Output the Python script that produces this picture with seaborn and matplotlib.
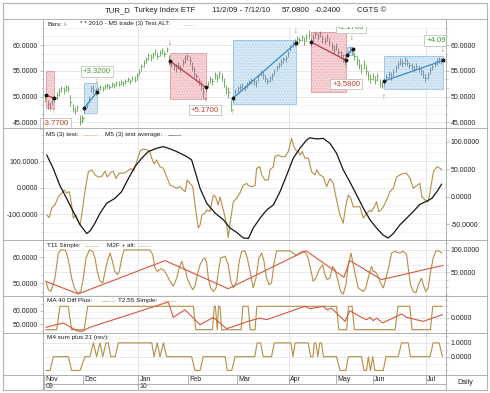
import matplotlib
matplotlib.use("Agg")
import matplotlib.pyplot as plt
from matplotlib.lines import Line2D
from matplotlib.patches import Rectangle
from matplotlib.ticker import FixedLocator, FormatStrFormatter, MultipleLocator
import seaborn as sns

# ---- daily HLC bars, TUR 11/2/09 - 7/12/10 (x = bar index) ----
close = [50.0, 48.6, 48.2, 49.6, 49.8, 50.3, 51.0, 51.6, 51.2, 51.9,
         51.5, 49.0, 47.6, 47.2, 47.9, 45.3, 45.8, 47.7, 48.5, 49.6,
         51.6, 51.2, 50.9, 51.4, 51.8, 51.5, 52.0, 52.3, 51.9, 52.4,
         52.2, 52.6, 52.5, 52.9, 52.7, 53.1, 53.4, 53.0, 53.6, 53.3,
         54.2, 54.8, 55.9, 56.5, 57.2, 58.0, 57.6, 58.2, 58.8, 57.9,
         58.5, 59.0, 58.3, 59.3, 56.9, 56.4, 56.0, 55.6, 56.2, 55.5,
         56.8, 57.4, 57.9, 57.0, 55.8, 54.9, 53.9, 53.0, 52.2, 50.8,
         51.8, 52.5, 53.4, 53.0, 54.2, 53.6, 54.5, 53.8, 52.9, 51.5,
         50.9, 48.3, 49.7, 51.0, 51.6, 51.9, 52.2, 51.8, 52.4, 52.9,
         53.3, 53.0, 52.6, 53.9, 54.7, 54.2, 53.5, 53.1, 53.6, 54.0,
         54.9, 55.8, 56.3, 56.7, 57.2, 57.5, 58.4, 59.6, 60.4, 60.5,
         61.2, 61.0, 61.5, 60.8, 61.6, 62.0, 60.6, 61.5, 62.2, 61.7,
         62.3, 61.2, 60.8, 61.6, 60.5, 59.9, 59.2, 59.8, 58.6, 58.1,
         57.5, 57.0, 58.3, 59.4, 58.9, 57.8, 57.0, 56.1, 55.4, 56.3,
         55.0, 54.2, 53.4, 54.0, 53.2, 53.9, 52.6, 52.2, 53.0, 53.8,
         54.3, 54.0, 54.8, 55.6, 56.3, 56.8, 56.5, 57.0, 56.6, 56.2,
         55.8, 55.4, 56.0, 55.5, 54.9, 54.4, 53.6, 54.2, 55.1, 55.8,
         56.4, 56.9, 57.32, 57.08]
high = [50.6, 49.4, 48.9, 50.1, 50.4, 50.9, 51.6, 52.1, 51.9, 52.3,
        52.2, 50.4, 48.6, 47.9, 48.3, 46.4, 46.5, 48.1, 49.0, 50.2,
        52.1, 52.2, 51.6, 51.8, 52.2, 52.0, 52.4, 52.7, 52.4, 52.8,
        52.7, 53.0, 53.0, 53.3, 53.1, 53.5, 53.8, 53.5, 54.0, 53.9,
        54.6, 55.3, 56.4, 57.0, 57.6, 58.5, 58.2, 58.7, 59.2, 58.6,
        59.0, 59.4, 58.9, 59.6, 58.0, 57.0, 56.6, 56.3, 56.8, 56.1,
        57.3, 58.1, 58.3, 57.8, 56.7, 55.8, 54.6, 53.7, 53.0, 51.9,
        52.3, 53.0, 53.9, 53.6, 54.7, 54.3, 55.0, 54.5, 53.6, 52.3,
        51.8, 49.4, 50.1, 51.4, 52.0, 52.4, 52.6, 52.3, 52.8, 53.3,
        53.7, 53.5, 53.2, 54.3, 55.1, 54.9, 54.1, 53.6, 54.0, 54.5,
        55.3, 56.2, 56.7, 57.2, 57.7, 58.0, 58.9, 60.0, 60.8, 61.1,
        61.7, 61.6, 62.0, 61.5, 62.1, 62.9, 61.4, 62.2, 62.7, 62.3,
        62.8, 62.0, 61.5, 62.1, 61.3, 60.6, 60.0, 60.3, 59.4, 58.8,
        58.2, 57.6, 58.9, 59.8, 59.5, 58.7, 57.8, 57.2, 56.3, 57.0,
        56.1, 55.0, 54.3, 54.6, 54.0, 54.5, 53.5, 52.9, 53.5, 54.4,
        54.9, 54.7, 55.4, 56.2, 56.9, 57.4, 57.3, 57.6, 57.3, 56.8,
        56.5, 56.1, 56.6, 56.2, 55.6, 55.1, 54.4, 54.8, 55.7, 56.4,
        56.9, 57.4, 57.6, 57.5]
low = [48.9, 47.6, 47.4, 48.4, 49.0, 49.6, 50.2, 50.8, 50.5, 51.0,
       50.9, 48.2, 47.0, 46.6, 47.2, 44.4, 44.9, 46.8, 47.8, 48.9,
       50.8, 50.5, 50.3, 50.8, 51.2, 51.0, 51.4, 51.7, 51.4, 51.8,
       51.6, 52.0, 52.0, 52.3, 52.1, 52.5, 52.8, 52.4, 53.0, 52.8,
       53.2, 54.1, 55.0, 55.8, 56.5, 57.1, 56.9, 57.5, 58.0, 57.3,
       57.8, 58.3, 57.7, 58.6, 56.2, 55.7, 55.2, 54.8, 55.4, 54.7,
       55.9, 56.6, 57.0, 56.2, 55.0, 53.8, 53.0, 52.2, 51.3, 49.8,
       51.0, 51.8, 52.6, 52.3, 53.4, 52.9, 53.7, 53.0, 51.9, 50.6,
       49.8, 47.3, 48.9, 50.3, 50.9, 51.2, 51.5, 51.1, 51.7, 52.2,
       52.5, 52.3, 51.9, 53.1, 54.0, 53.5, 52.8, 52.4, 52.9, 53.3,
       54.1, 55.0, 55.6, 56.0, 56.5, 56.8, 57.6, 58.8, 59.6, 59.8,
       60.4, 60.3, 60.7, 60.0, 60.8, 61.2, 59.9, 60.8, 61.4, 61.0,
       61.5, 60.4, 60.1, 60.8, 59.8, 59.1, 58.4, 59.0, 57.8, 57.3,
       56.7, 56.3, 57.6, 58.6, 58.1, 57.0, 56.1, 55.3, 54.6, 55.4,
       54.2, 53.3, 52.6, 53.2, 52.4, 53.0, 51.9, 51.6, 52.3, 53.1,
       53.6, 53.3, 54.0, 54.8, 55.5, 56.1, 55.8, 56.2, 55.9, 55.5,
       55.1, 54.7, 55.2, 54.8, 54.2, 53.7, 52.9, 53.4, 54.4, 55.1,
       55.7, 56.2, 56.6, 56.4]

# ---- "M5 trade (3) Test ALT" trades ----
trade_side = ["short", "long", "short", "long", "short", "long", "long"]
trade_i0 = [0.2, 16.9, 54.5, 82.0, 116.0, 131.7, 147.9]
trade_i1 = [3.8, 22.6, 70.0, 109.5, 131.5, 134.4, 173.7]
box_hi = [55.0, 52.6, 58.5, 61.0, 62.5, 59.6, 57.9]
box_lo = [47.85, 46.8, 49.5, 48.6, 50.9, 58.1, 51.5]
trade_p0 = [50.3, 47.7, 56.9, 49.7, 60.6, 58.0, 53.0]
trade_p1 = [49.7, 50.9, 51.8, 60.4, 57.0, 59.3, 57.0]

result_text = ["-3.7700", "+3.3200", "+5.1700", "-1.1700", "+3.5800", "+4.0900"]
result_side = ["short", "long", "short", "long", "short", "long"]
result_x = [4.45, 22.4, 69.7, 133.5, 131.5, 172.6]
result_y = [44.79, 54.86, 47.4, 63.45, 52.44, 60.8]

arrow_x = [3.6, 16.7, 22.5, 54.5, 70.0, 82.0, 109.5, 131.5, 133.9, 148.0, 173.7]
arrow_y = [47.1, 45.3, 53.0, 60.3, 49.3, 47.0, 62.7, 55.8, 61.3, 49.8, 58.9]
arrow_up = [True, True, False, False, True, True, False, True, False, True, False]
arrow_side = ["short", "long", "long", "short", "short", "long", "long",
              "long", "long", "long", "long"]

# ---- M5 (3) test (left scale) / test average (right scale) ----
m5_x = [0.6, 1.7, 2.8, 4.2, 5.7, 7.2, 8.3, 9.3, 10.5, 11.5, 12.2, 13.4, 14.4, 15.2,
        15.9, 17.3, 18.8, 20.3, 21.7, 23.2, 24.6, 26.1, 27.1, 28.6, 29.7, 30.9, 32.3,
        34.1, 35.5, 37.3, 38.7, 39.9, 41.4, 42.8, 44.5, 45.7, 46.5, 47.5, 48.6, 50.1,
        51.5, 53.0, 54.5, 55.9, 57.4, 58.8, 60.3, 61.1, 62.0, 63.2, 64.4, 65.5, 66.8,
        67.6, 68.4, 69.7, 70.5, 71.9, 73.4, 74.4, 75.5, 76.3, 77.3, 78.2, 79.2, 79.9,
        80.8, 82.1, 83.6, 85.0, 86.5, 88.0, 88.7, 90.2, 91.6, 92.3, 93.7, 94.5, 95.9,
        97.4, 98.1, 99.6, 100.3, 101.8, 103.2, 104.7, 106.1, 107.6, 108.3, 109.3,
        110.5, 111.2, 112.2, 113.4, 114.9, 116.3, 117.8, 118.5, 120.0, 121.4, 122.9,
        124.3, 125.8, 127.2, 128.7, 130.1, 131.3, 132.3, 133.4, 134.5, 136.0, 137.4,
        138.9, 140.4, 141.8, 142.5, 143.5, 144.7, 145.6, 146.5, 147.6, 149.1, 150.5,
        152.0, 153.4, 154.9, 156.3, 157.8, 159.3, 160.7, 162.2, 163.6, 164.4, 165.8,
        167.3, 168.3, 169.5, 171.0, 172.4, 173.1]
m5_y = [-103, -113, -77, -65, -34, -20, -9, -20, -15, -65, -115, -103, -128, -141,
        -103, -15, 60, 67, 48, 40, 42, 62, 40, 58, 62, 35, 55,
        55, 60, 72, 65, 98, 138, 146, 143, 134, 111, 90, 104, 79,
        74, 41, 10, 4, -2, 4, -9, -15, 29, 16, 4, -72, -152,
        -141, -103, -97, -84, -90, -28, -35, -65, -35, -70, -100, -141, -189,
        -128, -53, -40, -20, 10, 16, 8, 4, 8, 73, 79, 48, 29,
        29, 67, 79, 117, 123, 117, 117, 136, 186, 161, 142,
        136, 123, 136, 111, 111, 60, 48, 67, 48, 41, 4,
        35, 16, -46, -103, -134, -65, -28, -40, -72, -72, -72,
        -115, -97, -85, -90, -75, -53, -90, -85, -72, -46, -15,
        -2, 41, 48, 54, 54, 35, -2, 8, 16, -34, -46,
        -53, -2, 60, 79, 73, 67]
avg_x = [0.6, 3.4, 6.3, 9.3, 12.2, 15.2, 18.1, 19.6, 21.7, 23.9, 26.8, 30.4, 33.3,
         36.3, 39.2, 42.1, 45.0, 48.6, 51.5, 54.5, 57.4, 61.8, 63.9, 65.5, 67.6, 70.5,
         74.2, 77.8, 80.7, 83.6, 86.5, 88.7, 90.8, 93.8, 96.7, 99.6, 102.5, 105.4,
         108.3, 111.2, 114.1, 115.5, 118.5, 121.4, 124.3, 127.2, 130.1, 133.0, 136.0,
         138.9, 141.8, 144.7, 147.6, 149.8, 152.0, 154.9, 157.8, 160.7, 163.6, 166.6,
         168.8, 171.0, 173.1]
avg_y = [76, 52, 21, -3, -27, -51, -67, -62, -48, -30, -12, -3, 9,
         33, 55, 70, 82, 88, 91, 87, 82, 73, 67, 45, 15, -12,
         -30, -42, -57, -65, -75, -76, -57, -39, -24, -15, 9, 39,
         70, 88, 103, 107, 105, 106, 97, 79, 49, 27, 3,
         -21, -42, -57, -70, -75, -67, -51, -39, -27, -14, -8,
         -3, 9, 23]

# ---- T11 Simple (right scale) / M2F + alt (left scale) ----
t11_x = [0.3, 1.3, 2.5, 4.2, 5.7, 6.7, 8.6, 9.3, 10.5, 11.5, 12.7, 14.0, 15.5, 16.6,
         17.8, 19.2, 20.7, 21.7, 22.7, 23.9, 25.1, 26.1, 27.1, 28.3, 29.3, 30.4, 31.5,
         32.3, 33.4, 34.4, 45.7, 46.9, 47.9, 48.9, 50.4, 51.9, 53.0, 54.5, 55.9, 57.4,
         58.5, 59.6, 60.3, 61.3, 62.0, 63.2, 64.4, 65.4, 66.4, 67.6, 68.7, 69.8, 70.5,
         71.2, 72.2, 73.4, 74.6, 75.6, 76.6, 78.5, 79.9, 81.0, 82.1, 83.6, 84.7, 85.8,
         87.2, 88.2, 89.7, 90.8, 92.0, 93.3, 94.5, 95.5, 96.6, 97.8, 98.8, 99.8, 101.0,
         106.8, 108.3, 109.7, 110.9, 112.7, 113.8, 114.8, 115.9, 117.0, 118.2, 119.6,
         121.1, 122.1, 123.1, 124.3, 125.5, 126.5, 127.9, 129.0, 130.1, 131.3, 132.3,
         133.5, 134.5, 135.7, 136.7, 137.7, 138.9, 140.0, 141.0, 141.8, 142.5, 143.2,
         143.9, 145.0, 146.1, 147.6, 148.8, 150.2, 151.2, 152.7, 154.6, 156.3, 157.8,
         158.5, 159.5, 160.7, 161.9, 162.9, 164.3, 165.3, 166.2, 167.2, 168.3, 169.4,
         170.6, 172.0, 173.1]
t11_y = [30, 11, 7, 37, 93, 100, 100, 93, 67, 37, 15, 4, 7, 37,
         82, 100, 97, 82, 52, 30, 26, 52, 75, 93, 75, 52, 45,
         52, 82, 100, 100, 90, 60, 52, 58, 54, 45, 30, 19, 37,
         60, 75, 63, 52, 37, 22, 11, 19, 45, 67, 78, 82, 71,
         37, 15, 7, 15, 52, 82, 86, 67, 30, 15, 30, 75, 97,
         98, 82, 45, 15, 37, 82, 93, 75, 37, 22, 26, 67, 98,
         98, 93, 88, 93, 97, 93, 82, 56, 30, 37, 56,
         67, 45, 34, 37, 63, 56, 30, 7, 1, 22, 67,
         93, 67, 37, 15, 11, 7, 15, 37, 52, 63, 52,
         52, 45, 30, 15, 37, 67, 93, 97, 93, 97, 90,
         60, 22, 7, 4, 22, 37, 19, 7, 15, 52, 82,
         98, 98, 93]
m2f_x = [0.3, 14.4, 52.3, 79.9, 113.8, 130.4, 133.0, 146.9, 173.8]
m2f_y = [50.7, 45.9, 58.7, 47.9, 62.5, 52.3, 58.7, 51.4, 56.9]

# ---- MA 40 Diff Plus (right scale) / T2.55 Simple (left scale) ----
ma40_x = [0.3, 5.0, 6.4, 10.0, 11.5, 17.0, 18.5, 64.7, 65.7, 73.0,
          73.8, 74.3, 75.1, 75.7, 76.3, 77.0, 85.5, 86.3, 88.6, 89.5,
          91.6, 92.4, 127.2, 128.2, 131.6, 132.4, 134.0, 135.0, 152.8, 154.0,
          159.2, 160.2, 168.2, 169.2, 173.5]
ma40_y = [-1, -1, 1, 1, -1, -1, 1, 1, -1, -1,
          1, 1, -1, 1, 1, -1, -1, 1, 1, -1,
          -1, 1, 1, -1, -1, 1, 1, -1, -1, 1,
          1, -1, -1, 1, 1]
t255_x = [0.3, 7.9, 13.7, 15.9, 19.5, 53.7, 55.9, 61.0, 67.6, 73.4,
          79.2, 89.4, 93.7, 96.6, 113.4, 115.6, 121.4, 123.1, 125.0, 130.9,
          133.0, 138.1, 140.3, 141.8, 143.2, 144.7, 147.3, 155.6, 157.8, 165.1,
          173.5]
t255_y = [47.8, 51.0, 45.3, 44.8, 47.8, 66.4, 55.1, 60.7, 49.7, 55.1,
          46.8, 52.6, 54.6, 53.4, 63.2, 61.5, 63.2, 60.7, 61.9, 52.2,
          60.0, 55.1, 53.4, 55.1, 52.7, 54.6, 51.0, 57.6, 55.1, 52.2,
          57.1]

# ---- M4 sum plus 21 (rev) ----
m4_x = [0.3, 2.1, 3.5, 10.1, 11.5, 15.2, 17.3, 19.5, 21.0, 22.4,
        23.9, 25.1, 26.5, 27.5, 28.6, 30.5, 31.9, 46.5, 47.5, 48.9,
        50.1, 51.6, 53.0, 63.9, 65.4, 67.6, 69.0, 78.5, 79.5, 81.4,
        82.9, 91.5, 92.5, 94.0, 95.2, 98.8, 100.0, 107.3, 108.2, 109.1,
        114.8, 115.9, 116.9, 117.5, 118.2, 119.0, 119.9, 120.6, 121.5, 127.2,
        128.7, 131.3, 132.3, 138.1, 139.2, 140.3, 141.1, 142.0, 143.0, 143.9,
        147.6, 148.8, 154.1, 155.6, 158.5, 159.5, 168.0, 169.4, 172.0, 173.5]
m4_y = [-1, -1, 0, 0, -1, -1, 0, 0, 1, 0,
        1, 0, 1, 1, 0, 0, 1, 1, 0, 1,
        0, 1, 0, 0, -1, -1, 0, 0, -1, -1,
        0, 0, 1, 1, 0, 0, 1, 1, 0, 1,
        1, 0, 0, 1, 1, 0, 1, 1, 0, 0,
        -1, -1, 0, 0, -1, -1, 0, -1, 0, -1,
        -1, 0, 0, 1, 1, 0, 0, 1, 1, 0]

months = ["Nov", "Dec", "Jan", "Feb", "Mar", "Apr", "May", "Jun", "Jul"]
month_pos = [-0.4, 16.5, 40.5, 62.3, 83.7, 106.4, 127.0, 143.1, 166.2]
years = ["09", "10"]
year_pos = [-0.4, 40.5]

# ---- look ----
W, H = 490, 393
PX_L, PX_R = 43, 446
XLIM = (-1, 175)
GOLD = "#b48f45"
RED = "#d6583e"
GREEN = "#4c9e38"
BLACK = "#151515"
FRAME = "#a4a4a4"
SIDE = {"short": dict(fill="#f6d2d5", dots="#e7a7ad", edge="#e49aa2", line="#b8394a",
                      bar="#8a6a72", text="#c0392b"),
        "long": dict(fill="#d7e8f5", dots="#a9cdea", edge="#93c2e6", line="#3b8bc4",
                     bar="#64839a", text="#3f9a2c")}

sns.set_style("white")
plt.rcParams["font.family"] = ["Liberation Sans", "DejaVu Sans"]
plt.rcParams["hatch.linewidth"] = 0.4


def fig_box(top, bottom):
    return [PX_L / W, 1 - bottom / H, (PX_R - PX_L) / W, (bottom - top) / H]


def fig_line(fig, x0, y0, x1, y1, color=FRAME):
    fig.add_artist(Line2D([x0 / W, x1 / W], [1 - y0 / H, 1 - y1 / H],
                          color=color, lw=0.6, zorder=5))


def fig_text(fig, x, y, s, **kw):
    kw.setdefault("fontsize", 4.6)
    kw.setdefault("color", "#222222")
    fig.text(x / W, 1 - y / H, s, va="center", ha="left", zorder=6, **kw)


def base(ax, quarters):
    ax.set_xlim(*XLIM)
    ax.set_xticks(quarters)
    ax.tick_params(axis="x", length=0, labelbottom=False)
    ax.grid(True, axis="x", color="#dadada", lw=0.5)
    for s in ax.spines.values():
        s.set_visible(False)


def yaxis(ax, side, ticks, lim, minor=None, grid=False):
    ax.set_ylim(*lim)
    ax.yaxis.set_major_locator(FixedLocator(ticks))
    ax.yaxis.set_major_formatter(FormatStrFormatter("%.4f"))
    if minor:
        ax.yaxis.set_minor_locator(MultipleLocator(minor))
    ax.tick_params(axis="y", which="both", left=side in ("left", "both"),
                   right=side in ("right", "both"),
                   labelleft=side in ("left", "both"),
                   labelright=side in ("right", "both"))
    ax.tick_params(axis="y", which="major", labelsize=5, length=2, width=0.5,
                   pad=1.5, color=FRAME, labelcolor="#222222")
    ax.tick_params(axis="y", which="minor", length=1.2, width=0.4, color=FRAME)
    ax.set_ylabel("")
    if grid:
        ax.grid(True, axis="y", which="major", color="#dedede", lw=0.5)
        ax.grid(True, axis="y", which="minor", color="#efefef", lw=0.45)


def line(ax, xs, ys, color, lw=0.8):
    sns.lineplot(x=xs, y=ys, ax=ax, color=color, linewidth=lw,
                 estimator=None, sort=False, legend=False)


fig = plt.figure(figsize=(W / 100, H / 100), dpi=100)
quarters = [month_pos[2], month_pos[5], month_pos[8]]

# ---- price panel ----
ax1 = fig.add_axes(fig_box(18.5, 127.5))
base(ax1, quarters)
yaxis(ax1, "both", [45, 50, 55, 60], (44.01, 65.14), minor=5 / 3, grid=True)

idx = list(range(len(close)))
bar_colors = []
for i in idx:
    c = GREEN
    for side, a, b in zip(trade_side, trade_i0, trade_i1):
        if a <= i <= b:
            c = SIDE[side]["bar"]
    bar_colors.append(c)

for side, a, b, lo, hi in zip(trade_side, trade_i0, trade_i1, box_lo, box_hi):
    st = SIDE[side]
    ax1.add_patch(Rectangle((a, lo), b - a, hi - lo, facecolor=st["fill"],
                            edgecolor=st["dots"], hatch="......", lw=0, zorder=1))
    ax1.add_patch(Rectangle((a, lo), b - a, hi - lo, fill=False,
                            edgecolor=st["edge"], lw=0.6, zorder=1.1))

ax1.vlines(idx, low, high, colors=bar_colors, lw=0.55, zorder=2)
ax1.hlines(close, idx, [i + 0.5 for i in idx], colors=bar_colors, lw=0.55, zorder=2)

for side, a, b, p0, p1 in zip(trade_side, trade_i0, trade_i1, trade_p0, trade_p1):
    ax1.plot([a, b], [p0, p1], color=SIDE[side]["line"], lw=0.9, zorder=3)
    ax1.plot([a, b], [p0, p1], ls="none", marker="o", ms=1.8, color=BLACK, zorder=3.1)

for x, y, up, side in zip(arrow_x, arrow_y, arrow_up, arrow_side):
    ax1.text(x, y, "↑" if up else "↓", color=SIDE[side]["text"], fontsize=5.5,
             ha="center", va="center", zorder=4)

for s, side, x, y in zip(result_text, result_side, result_x, result_y):
    ax1.text(x, y, s, color=SIDE[side]["text"], fontsize=5.6, ha="center",
             va="center", zorder=4, clip_on=(x > 150),
             bbox=dict(boxstyle="square,pad=0.25", fc="white", ec="#b5b5b5", lw=0.5))

# legend strip across the top of the price panel
fig.add_artist(Rectangle((PX_L / W + 0.001, 1 - 27.3 / H), (PX_R - PX_L) / W - 0.002,
                         8.6 / H, transform=fig.transFigure, fc="white", ec="none",
                         zorder=4))
fig_text(fig, 47, 24, "Bars:")
fig_text(fig, 63.5, 24, "I-", color=GREEN)
fig_text(fig, 80, 24, "* * 2010 - M5 trade (3) Test ALT:")
fig_text(fig, 182, 23.4, "____", color="#8fc2ea")

# ---- M5 panel ----
ax2 = fig.add_axes(fig_box(127.5, 239.5))
base(ax2, quarters)
ax2b = ax2.twinx()
for s in ax2b.spines.values():
    s.set_visible(False)
line(ax2, m5_x, m5_y, GOLD)
line(ax2b, avg_x, avg_y, BLACK, lw=0.9)
yaxis(ax2, "left", [-100, 0, 100], (-195.5, 227), minor=100 / 3, grid=True)
yaxis(ax2b, "right", [-50, 0, 50, 100], (-77.8, 125.8))
fig_text(fig, 46, 134.5, "M5 (3) test:")
fig_text(fig, 83, 133.9, "____", color=GOLD)
fig_text(fig, 105, 134.5, "M5 (3) test average:")
fig_text(fig, 167, 133.9, "____", color=BLACK)

# ---- T11 panel ----
ax3 = fig.add_axes(fig_box(239.5, 296.0))
base(ax3, quarters)
ax3b = ax3.twinx()
for s in ax3b.spines.values():
    s.set_visible(False)
line(ax3, t11_x, t11_y, GOLD)
line(ax3b, m2f_x, m2f_y, RED)
yaxis(ax3, "right", [50, 100], (-3.1, 123.5), minor=50 / 3, grid=True)
yaxis(ax3b, "left", [50, 60], (45.1, 66.8), minor=10 / 3)
fig_text(fig, 47, 245.5, "T11 Simple:")
fig_text(fig, 84, 244.9, "____", color=GOLD)
fig_text(fig, 107, 245.5, "M2F + alt:")
fig_text(fig, 137, 244.9, "____", color=GOLD)

# ---- MA 40 panel ----
ax4 = fig.add_axes(fig_box(296.0, 332.5))
base(ax4, quarters)
ax4b = ax4.twinx()
for s in ax4b.spines.values():
    s.set_visible(False)
line(ax4, ma40_x, ma40_y, GOLD)
line(ax4b, t255_x, t255_y, RED)
yaxis(ax4, "right", [0], (-1.24, 1.88), minor=0.5, grid=True)
yaxis(ax4b, "left", [50, 60], (44.0, 70.8), minor=5)
fig_text(fig, 47, 300.5, "MA 40 Diff Plus:")
fig_text(fig, 101, 299.9, "____", color=GOLD)
fig_text(fig, 118, 300.5, "T2.55 Simple:")
fig_text(fig, 162, 299.9, "____", color="#c9894f")

# ---- M4 panel ----
ax5 = fig.add_axes(fig_box(332.5, 374.5))
base(ax5, quarters)
line(ax5, m4_x, m4_y, GOLD)
yaxis(ax5, "right", [0, 1], (-1.29, 1.75), minor=0.5, grid=True)
fig_text(fig, 47, 337.5, "M4 sum plus 21 (rev):")
fig_text(fig, 115, 336.9, "____", color="#dcc08a")

# ---- date strip ----
axd = fig.add_axes(fig_box(374.5, 390.0))
axd.set_xlim(*XLIM)
axd.set_ylim(0, 1)
axd.axis("off")
axd.vlines(month_pos, 0.39, 1, color=FRAME, lw=0.6)
axd.vlines(year_pos, 0, 0.39, color=FRAME, lw=0.6)
for m, p in zip(months, month_pos):
    axd.text(p + 0.6, 0.66, m, fontsize=5, ha="left", va="center", color="#222222")
for y, p in zip(years, year_pos):
    axd.text(p + 0.6, 0.2, y, fontsize=5, ha="left", va="center", color="#222222")
fig_line(fig, PX_L, 384, PX_R, 384)
fig_text(fig, 457, 382, "Daily", fontsize=5)

# ---- frame and title bar ----
fig.add_artist(Rectangle((3 / W, 1 - 390 / H), 484 / W, 387 / H, transform=fig.transFigure,
                         fill=False, ec="#b4b4b4", lw=0.8, zorder=5))
for yy in (18.5, 127.5, 239.5, 296.0, 332.5, 374.5):
    fig_line(fig, 3, yy, 487, yy)
fig_line(fig, PX_L, 18.5, PX_L, 390)
fig_line(fig, PX_R, 18.5, PX_R, 390)

for x, s in [(105, "TUR_D"), (134, "Turkey Index ETF"), (212, "11/2/09 - 7/12/10"),
             (282, "57.0800"), (315, "-0.2400"), (357, "CGTS ©")]:
    fig_text(fig, x, 10.7, s, fontsize=5.6)

fig.savefig("out.png", dpi=100)
